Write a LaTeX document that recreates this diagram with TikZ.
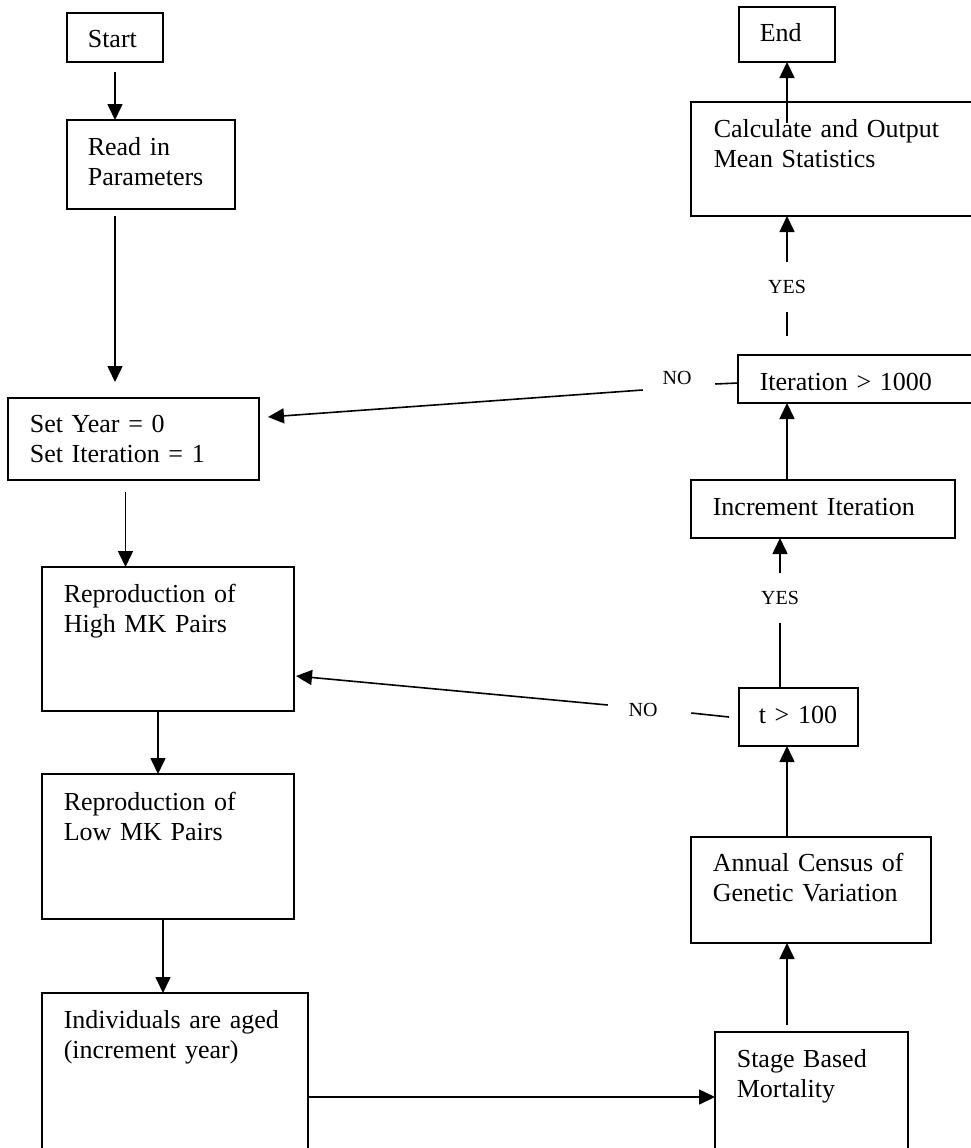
\documentclass[tikz,border=0pt]{standalone}
\usepackage{fontspec}
\setmainfont{Liberation Serif}
\usetikzlibrary{arrows.meta}
\begin{document}
\begin{tikzpicture}[x=1pt, y=-1pt, line width=1.6pt]

	% style of the boxes, texts and labels
	\tikzstyle{box}=[draw, line width=1.9pt, anchor=north west, inner sep=0pt, outer sep=0pt]
	\tikzstyle{txt}=[anchor=base west, inner sep=0pt, text width=300pt, align=left, font=\fontsize{26}{30.5}\selectfont]
	\tikzstyle{lbl}=[inner xsep=21pt, inner ysep=0pt, minimum height=49pt, font=\fontsize{20}{24}\selectfont]
	\tikzstyle{arr}=[-{Triangle[length=16pt,width=15pt]}]

	\useasboundingbox (0,0) rectangle (970,1148);

	% left column
	\node [box, minimum width=96pt, minimum height=49pt] (start) at (67,13) {};
	\node [txt] (startT) at (87,48) {Start};
	\node [box, minimum width=168pt, minimum height=89pt] (read) at (67,120) {};
	\node [txt] (readT) at (87,155) {Read in\\Parameters};
	\node [box, minimum width=251pt, minimum height=82pt] (setyr) at (8,398) {};
	\node [txt] (setyrT) at (29,432) {Set Year = 0\\Set Iteration = 1};
	\node [box, minimum width=252pt, minimum height=144pt] (high) at (42,567) {};
	\node [txt] (highT) at (63,602) {Reproduction of\\High MK Pairs};
	\node [box, minimum width=252pt, minimum height=145pt] (low) at (42,774) {};
	\node [txt] (lowT) at (63,810) {Reproduction of\\Low MK Pairs};
	\node [box, minimum width=266pt, minimum height=170pt] (indiv) at (42,993) {};
	\node [txt] (indivT) at (63,1028) {Individuals are aged\\(increment year)};

	% right column
	\node [box, minimum width=193pt, minimum height=130pt] (stage) at (715,1032) {};
	\node [txt] (stageT) at (736,1067) {Stage Based\\Mortality};
	\node [box, minimum width=240pt, minimum height=106pt] (annual) at (691,837) {};
	\node [txt] (annualT) at (712,871) {Annual Census of\\Genetic Variation};
	\node [box, minimum width=119pt, minimum height=58pt] (tgt) at (739,688) {};
	\node [txt] (tgtT) at (758,723) {t > 100};
	\node [box, minimum width=264pt, minimum height=58pt] (incr) at (691,480) {};
	\node [txt] (incrT) at (712,515) {Increment Iteration};
	\node [box, minimum width=245pt, minimum height=48pt] (iter) at (738,355) {};
	\node [txt] (iterT) at (759,390) {Iteration > 1000};
	\node [box, minimum width=292pt, minimum height=114pt] (calc) at (691,102) {};
	\node [txt] (calcT) at (713,137) {Calculate and Output\\Mean Statistics};
	\node [box, minimum width=96pt, minimum height=55pt] (endb) at (739,7) {};
	\node [txt] (endT) at (759,42) {End};

	% decision labels
	\node [lbl] (yesA) at (787,287) {YES};
	\node [lbl] (yesB) at (780,598) {YES};
	\node [lbl] (noA) at (677,378) {NO};
	\node [lbl] (noB) at (643,710) {NO};

	% arrows down the left
	\draw [arr, shorten <=10pt] (start) -- (start.south |- read.north);
	\draw [arr, shorten <=7pt, shorten >=16pt] (start.south |- read.south) -- (start.south |- setyr.north);
	\draw [arr, shorten <=12pt] ([xshift=-8pt]setyr.south) -- ([xshift=-8pt]setyr.south |- high.north);
	\draw [arr] ([xshift=-10pt]high.south) -- ([xshift=-10pt]high.south |- low.north);
	\draw [arr] ([xshift=-5pt]low.south) -- ([xshift=-5pt]low.south |- indiv.north);
	\draw [arr] (stage.west -| indiv.east) -- (stage.west);

	% arrows up the right
	\draw [arr, shorten <=7pt] (endb |- stage.north) -- (endb |- annual.south);
	\draw [arr] (endb |- annual.north) -- (endb |- tgt.south);
	\draw (yesB.south) -- (yesB |- tgt.north);
	\draw [arr] (yesB.north) -- (yesB |- incr.south);
	\draw [arr] (endb |- incr.north) -- (endb |- iter.south);
	\draw [shorten >=19pt] (yesA.south) -- (yesA |- iter.north);
	\draw [arr] (yesA.north) -- (yesA |- calc.south);
	\draw [arr, shorten <=-21pt] (endb |- calc.north) -- (endb.south);

	% the NO loops back
	\draw ([shift={(0,4)}]iter.west) -- ([shift={(2,6)}]noA.east);
	\draw [arr] ([shift={(2,12)}]noA.west) -- ([shift={(9,-22)}]setyr.east);
	\draw ([shift={(-10,0)}]tgt.west) -- ([shift={(12,3)}]noB.east);
	\draw [arr] ([shift={(1,-5)}]noB.west) -- ([shift={(2,37)}]high.east);

\end{tikzpicture}
\end{document}
